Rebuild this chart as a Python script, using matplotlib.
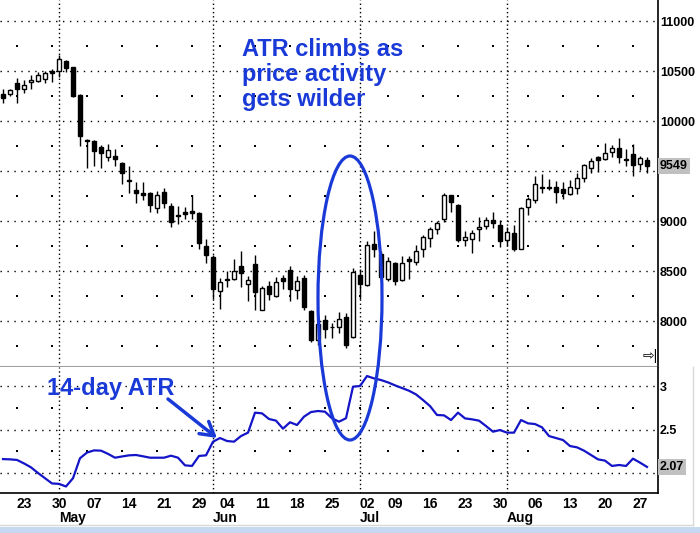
import pandas as pd
import numpy as np
import matplotlib
matplotlib.use('Agg')
import matplotlib.pyplot as plt
import matplotlib.transforms as mtransforms
from matplotlib.patches import Ellipse, Rectangle

plt.rcParams['font.family'] = ['Liberation Sans', 'DejaVu Sans']

# trading days shown (Apr 18 - Aug 28, 2018, holidays removed)
days = pd.bdate_range('2018-04-18', '2018-08-28')
days = days.drop(pd.to_datetime(['2018-05-28', '2018-07-04']))

opens = [10270, 10267, 10377, 10317, 10387, 10403, 10417, 10497, 10497, 10597,
         10537, 10260, 9807, 9800, 9737, 9643, 9650, 9577, 9407, 9310,
         9283, 9283, 9127, 9287, 9150, 9057, 9093, 9100, 9083, 8750,
         8643, 8297, 8420, 8417, 8550, 8367, 8570, 8115, 8350, 8250,
         8430, 8507, 8307, 8427, 8103, 7813, 8008, 7940, 7943, 8040,
         7843, 8457, 8363, 8770, 8670, 8423, 8577, 8410, 8623, 8590,
         8717, 8827, 8917, 9020, 9260, 9160, 8807, 8823, 8917, 8950,
         9010, 8957, 8807, 8877, 8723, 9137, 9210, 9340, 9340, 9337,
         9317, 9270, 9327, 9427, 9527, 9637, 9623, 9693, 9727, 9620,
         9670, 9567, 9607]
highs = [10317, 10320, 10430, 10410, 10460, 10493, 10503, 10520, 10660, 10610,
         10543, 10270, 9817, 9810, 9760, 9767, 9723, 9593, 9550, 9390,
         9390, 9293, 9300, 9327, 9177, 9150, 9137, 9260, 9090, 8817,
         8657, 8433, 8500, 8620, 8700, 8455, 8660, 8350, 8405, 8440,
         8460, 8550, 8450, 8465, 8110, 7983, 8060, 7980, 8087, 8077,
         8533, 8517, 8800, 8900, 8703, 8637, 8590, 8650, 8650, 8757,
         8860, 8943, 9003, 9283, 9265, 9170, 8903, 8910, 9037, 9043,
         9090, 9010, 8943, 8957, 9143, 9243, 9450, 9475, 9417, 9400,
         9395, 9410, 9480, 9573, 9627, 9650, 9780, 9765, 9827, 9717,
         9770, 9650, 9640]
lows = [10177, 10253, 10183, 10283, 10317, 10387, 10377, 10387, 10443, 10493,
        10243, 9750, 9527, 9550, 9527, 9603, 9550, 9370, 9283, 9183,
        9210, 9093, 9083, 9127, 8937, 8970, 9017, 9017, 8720, 8583,
        8217, 8123, 8337, 8410, 8343, 8203, 8115, 8107, 8213, 8237,
        8320, 8203, 8223, 8110, 7793, 7757, 7827, 7835, 7877, 7727,
        7827, 8217, 8350, 8637, 8410, 8403, 8363, 8403, 8423, 8557,
        8643, 8743, 8867, 8987, 9093, 8793, 8750, 8683, 8803, 8917,
        8930, 8737, 8750, 8700, 8720, 9060, 9183, 9283, 9310, 9177,
        9220, 9257, 9273, 9393, 9485, 9493, 9610, 9643, 9577, 9547,
        9447, 9513, 9480]
closes = [10233, 10307, 10317, 10357, 10407, 10457, 10483, 10483, 10617, 10527,
          10250, 9850, 9800, 9703, 9683, 9710, 9617, 9483, 9400, 9283,
          9257, 9157, 9257, 9183, 8993, 9050, 9073, 9077, 8783, 8657,
          8323, 8390, 8415, 8500, 8485, 8410, 8290, 8327, 8267, 8390,
          8403, 8320, 8400, 8143, 7810, 7968, 7925, 7937, 8017, 7762,
          8487, 8373, 8757, 8720, 8443, 8597, 8397, 8577, 8603, 8703,
          8837, 8917, 8977, 9257, 9187, 8810, 8843, 8883, 8937, 9007,
          8983, 8803, 8890, 8717, 9133, 9217, 9367, 9335, 9335, 9293,
          9277, 9337, 9427, 9557, 9600, 9610, 9677, 9727, 9637, 9615,
          9557, 9627, 9549]

atr = [2.16, 2.157, 2.15, 2.11, 2.065, 2.00, 1.94, 1.88, 1.875, 1.845,
       1.94, 2.17, 2.235, 2.26, 2.257, 2.22, 2.176, 2.19, 2.203, 2.207,
       2.192, 2.176, 2.176, 2.176, 2.199, 2.176, 2.088, 2.081, 2.196, 2.203,
       2.36, 2.402, 2.368, 2.36, 2.425, 2.464, 2.694, 2.686, 2.621, 2.602,
       2.51, 2.583, 2.552, 2.648, 2.701, 2.713, 2.705, 2.629, 2.59, 2.63,
       2.993, 3.0, 3.115, 3.088, 3.069, 3.042, 3.008, 2.977, 2.946, 2.904,
       2.839, 2.77, 2.667, 2.663, 2.609, 2.694, 2.628, 2.617, 2.602, 2.54,
       2.475, 2.494, 2.464, 2.464, 2.609, 2.571, 2.563, 2.525, 2.425, 2.402,
       2.379, 2.31, 2.295, 2.257, 2.207, 2.157, 2.142, 2.081, 2.092, 2.081,
       2.165, 2.119, 2.07]

# 9500 and 2 sit under the last-value boxes, so their labels are left blank
price_ticks = [8000, 8500, 9000, 9500, 10000, 10500, 11000]
price_labels = ['8000', '8500', '9000', '', '10000', '10500', '11000']
price_minor = [7750, 8250, 8750, 9250, 9750, 10250, 10750]
atr_ticks = [2, 2.5, 3]
atr_labels = ['', '2.5', '3']
atr_minor = [2.25, 2.75]
last_price = 9549
last_atr = 2.07

blue = '#1a3ad8'
line_blue = '#1414c8'

o = np.array(opens); h = np.array(highs); l = np.array(lows); c = np.array(closes)
x = np.arange(len(o))
wd = np.array([d.weekday() for d in days])
week_start = [i for i in range(1, len(days)) if wd[i] < wd[i - 1]]
week_end = [i for i in range(len(days) - 1) if wd[i + 1] < wd[i]]
month_end = [i for i in range(len(days) - 1) if days[i + 1].month != days[i].month]

fig = plt.figure(figsize=(7, 5.33), dpi=100)
ax = fig.add_axes([0, 166 / 533, 658 / 700, 367 / 533])
ax2 = fig.add_axes([0, 40 / 533, 658 / 700, 126 / 533])

for a in (ax, ax2):
    a.set_xlim(-0.4286, 93.57)
    for m in month_end:
        a.axvline(m, color='black', lw=1, dashes=(1, 2), zorder=1)
    a.yaxis.tick_right()
    a.tick_params(axis='y', length=0, pad=1.5, labelsize=9)
    a.spines['left'].set_visible(False)
    a.spines['top'].set_visible(False)
    a.spines['right'].set_linewidth(1.2)

# price panel
ax.set_ylim(7540, 11210)
for p in price_ticks:
    ax.axhline(p, color='black', lw=1, dashes=(1, 4), zorder=1)
ax.scatter(np.repeat(week_end, len(price_minor)), np.tile(price_minor, len(week_end)),
           s=1.2, color='black', marker='s', lw=0, zorder=1)
up = c >= o
ax.vlines(x, l, h, color='black', lw=1.0, zorder=2)
ax.bar(x[up], (c - o)[up], bottom=o[up], width=0.55, color='white',
       edgecolor='black', lw=1.0, zorder=3)
ax.bar(x[~up], (o - c)[~up], bottom=c[~up], width=0.55, color='black',
       edgecolor='black', lw=1.0, zorder=3)
ax.set_yticks(price_ticks)
ax.set_yticklabels(price_labels, fontweight='bold')
ax.set_xticks([])
ax.spines['bottom'].set_color('#a0a0a0')
ax.spines['bottom'].set_linewidth(1.5)
tr = mtransforms.blended_transform_factory(ax.transAxes, ax.transData)
ax.text(1.003, last_price, str(last_price), transform=tr, fontsize=9, fontweight='bold',
        va='center', ha='left', zorder=6,
        bbox=dict(boxstyle='square,pad=0.15', fc='#c0c0c0', ec='none'))

# ATR panel
ax2.set_ylim(1.77, 3.219)
for v in atr_ticks:
    ax2.axhline(v, color='black', lw=1, dashes=(1, 4), zorder=1)
ax2.scatter(np.repeat(week_end, len(atr_minor)), np.tile(atr_minor, len(week_end)),
            s=1.2, color='black', marker='s', lw=0, zorder=1)
ax2.plot(x, atr, color=line_blue, lw=1.6, zorder=3)
ax2.set_yticks(atr_ticks)
ax2.set_yticklabels(atr_labels, fontweight='bold')
ax2.spines['top'].set_color('#a0a0a0')
ax2.spines['bottom'].set_linewidth(1.2)
ax2.set_xticks(week_start)
ax2.set_xticklabels(['%02d' % days[i].day for i in week_start], fontsize=10, fontweight='bold')
ax2.tick_params(axis='x', length=0, pad=3)
tr2 = mtransforms.blended_transform_factory(ax2.transAxes, ax2.transData)
ax2.text(1.003, last_atr, '%.2f' % last_atr, transform=tr2, fontsize=9, fontweight='bold',
         va='center', ha='left', zorder=6,
         bbox=dict(boxstyle='square,pad=0.15', fc='#c0c0c0', ec='none'))
trm = mtransforms.blended_transform_factory(ax2.transData, ax2.transAxes)
for m in month_end:
    ax2.text(m, -0.2, days[m + 1].strftime('%b'), transform=trm, fontsize=10,
             fontweight='bold', ha='left', va='center')

# overlay for annotations (pixel coordinates)
ov = fig.add_axes([0, 0, 1, 1], zorder=10)
ov.set_xlim(0, 700)
ov.set_ylim(533, 0)
ov.axis('off')
ov.patch.set_alpha(0)
ov.add_patch(Ellipse((350, 298), 64, 284, fill=False, edgecolor=blue, lw=2.3))
ov.text(242, 38, 'ATR climbs as\nprice activity\ngets wilder', color=blue, fontsize=17,
        fontweight='bold', va='top', ha='left', linespacing=1.12)
ov.text(47, 389, '14-day ATR', color=blue, fontsize=17, fontweight='bold',
        va='center', ha='left')
ov.annotate('', xy=(217, 438), xytext=(168, 399),
            arrowprops=dict(arrowstyle='->,head_length=0.6,head_width=0.35', lw=2.5,
                            color=blue, shrinkA=0, shrinkB=0, mutation_scale=16))
ov.text(650, 356, '\u21e8|', fontsize=10, ha='center', va='center', color='black')
ov.add_patch(Rectangle((0, 527), 700, 6, color='#c6d9f0', lw=0))
ov.plot([0, 693], [525, 525], color='#d8d8d8', lw=1)
ov.plot([693, 693], [367, 525], color='#d8d8d8', lw=1)

fig.savefig('out.png', dpi=100, facecolor='white')
